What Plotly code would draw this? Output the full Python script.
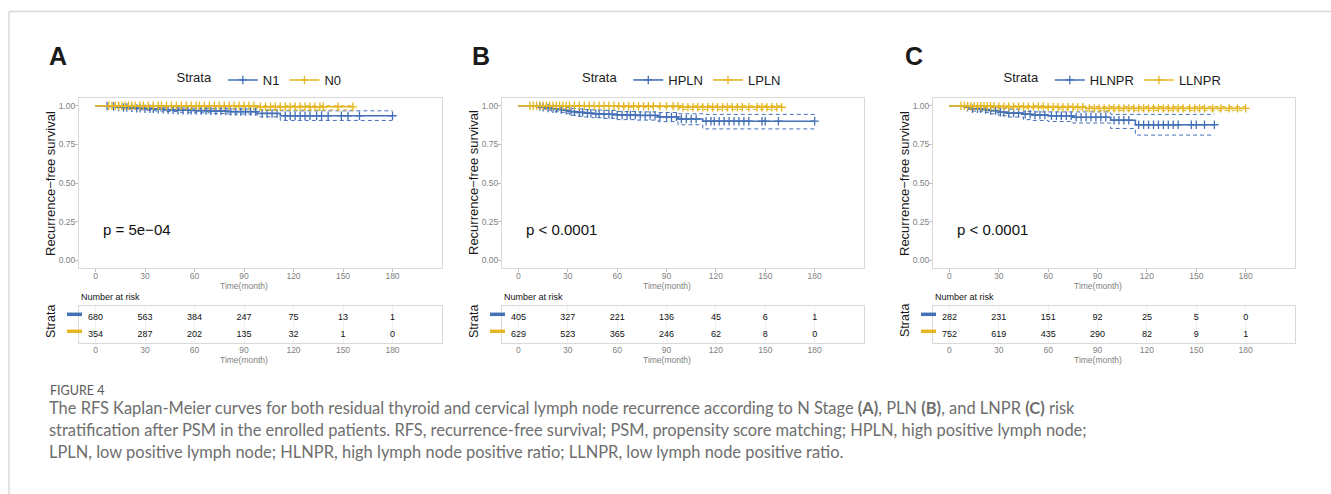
import numpy as np
import plotly.graph_objects as go

W, H = 1331, 494
BLUE = "#4470B6"
GOLD = "#E3B622"
GRAY_TXT = "#7F7F7F"
FONT = "Liberation Sans, Arial, sans-serif"

# ---------------- data ----------------
panel_letters = ["A", "B", "C"]
strata_labels = [["N1", "N0"], ["HPLN", "LPLN"], ["HLNPR", "LLNPR"]]
p_texts = ["p = 5e\u221204", "p < 0.0001", "p < 0.0001"]
risk_times = [0, 30, 60, 90, 120, 150, 180]

# Panel A  (N1 = blue, N0 = gold)
A_N1_t = [0, 7, 10, 13, 16, 20, 25, 30, 36, 42, 50, 60, 70, 80, 98, 112, 180]
A_N1_s = [1.0, 0.998, 0.995, 0.992, 0.989, 0.986, 0.983, 0.980, 0.977, 0.974, 0.971, 0.968, 0.965, 0.962, 0.950, 0.935, 0.935]
A_N1_up = [1.0, 1.0, 1.0, 0.999, 0.997, 0.995, 0.993, 0.991, 0.989, 0.987, 0.985, 0.983, 0.981, 0.979, 0.972, 0.967, 0.967]
A_N1_lo = [1.0, 0.994, 0.990, 0.986, 0.982, 0.978, 0.974, 0.970, 0.966, 0.962, 0.958, 0.954, 0.950, 0.946, 0.928, 0.905, 0.905]
A_N1_c = [7, 11, 14, 17, 19, 22, 25, 27, 30, 33, 35, 38, 41, 44, 47, 50, 53, 56, 58, 61, 64, 67, 70, 73, 76, 79, 82,
          85, 88, 91, 94, 97, 101, 104, 107, 110, 115, 118, 121, 124, 127, 130, 134, 137, 141, 149, 153, 160, 180]
A_N0_t = [0, 30, 98, 156]
A_N0_s = [1.0, 1.0, 0.993, 0.993]
A_N0_up = [1.0, 1.0, 1.0, 1.0]
A_N0_lo = [1.0, 0.992, 0.973, 0.973]
A_N0_c = [8, 10, 12, 14, 16, 18, 20, 22, 24, 27, 29, 32, 35, 38, 40, 43, 46, 49, 52, 55, 58, 61, 63, 66, 69, 72, 75,
          78, 81, 84, 87, 90, 93, 96, 100, 103, 106, 109, 112, 115, 118, 121, 124, 127, 130, 133, 136, 138, 147, 156]
A_risk_1 = [680, 563, 384, 247, 75, 13, 1]
A_risk_2 = [354, 287, 202, 135, 32, 1, 0]

# Panel B  (HPLN = blue, LPLN = gold)
B_H_t = [0, 12, 14, 17, 20, 24, 28, 31, 35, 40, 45, 52, 60, 72, 85, 97, 112, 180]
B_H_s = [1.0, 0.995, 0.990, 0.985, 0.980, 0.975, 0.970, 0.962, 0.957, 0.952, 0.948, 0.945, 0.940, 0.937, 0.928, 0.914, 0.900, 0.900]
B_H_up = [1.0, 1.0, 1.0, 0.998, 0.995, 0.992, 0.989, 0.983, 0.979, 0.975, 0.972, 0.970, 0.962, 0.960, 0.956, 0.948, 0.944, 0.944]
B_H_lo = [1.0, 0.985, 0.978, 0.971, 0.964, 0.957, 0.950, 0.938, 0.932, 0.927, 0.922, 0.918, 0.910, 0.907, 0.897, 0.877, 0.850, 0.850]
B_H_c = [13, 15, 18, 21, 23, 26, 29, 32, 34, 37, 39, 42, 44, 47, 49, 52, 55, 57, 60, 63, 66, 68, 71, 74, 77, 80,
         83, 86, 90, 93, 96, 99, 102, 105, 108, 114, 117, 119, 122, 125, 128, 131, 134, 137, 140, 148, 150, 158, 180]
B_L_t = [0, 60, 98, 160]
B_L_s = [1.0, 0.997, 0.990, 0.990]
B_L_up = [1.0, 1.0, 1.0, 1.0]
B_L_lo = [1.0, 0.990, 0.976, 0.976]
B_L_c = [7, 9, 11, 13, 15, 17, 19, 21, 23, 25, 27, 29, 31, 34, 37, 40, 43, 46, 49, 52, 55, 58, 61, 64, 67, 70, 73,
         76, 79, 82, 86, 90, 94, 97, 100, 103, 106, 109, 112, 115, 118, 121, 124, 127, 130, 133, 136, 140, 145, 148,
         151, 154, 157, 160]
B_risk_1 = [405, 327, 221, 136, 45, 6, 1]
B_risk_2 = [629, 523, 365, 246, 62, 8, 0]

# Panel C  (HLNPR = blue, LLNPR = gold)
C_H_t = [0, 10, 13, 20, 25, 30, 35, 45, 50, 60, 75, 98, 113, 161]
C_H_s = [1.0, 0.990, 0.980, 0.975, 0.968, 0.958, 0.952, 0.945, 0.940, 0.935, 0.925, 0.906, 0.877, 0.877]
C_H_up = [1.0, 1.0, 0.995, 0.992, 0.988, 0.982, 0.978, 0.962, 0.960, 0.960, 0.960, 0.944, 0.944, 0.944]
C_H_lo = [1.0, 0.978, 0.965, 0.957, 0.947, 0.935, 0.927, 0.910, 0.905, 0.898, 0.888, 0.853, 0.810, 0.810]
C_H_c = [11, 14, 17, 19, 22, 25, 28, 31, 33, 36, 39, 42, 46, 49, 52, 55, 58, 62, 65, 68, 71, 74, 77, 80, 83, 86, 89,
         92, 95, 100, 103, 106, 109, 115, 118, 121, 124, 127, 130, 133, 136, 139, 147, 150, 155, 161]
C_L_t = [0, 10, 30, 60, 83, 180]
C_L_s = [1.0, 0.997, 0.994, 0.990, 0.983, 0.983]
C_L_up = [1.0, 1.0, 1.0, 0.998, 0.995, 0.995]
C_L_lo = [1.0, 0.990, 0.985, 0.978, 0.968, 0.968]
C_L_c = [7, 9, 11, 13, 15, 17, 19, 21, 23, 25, 27, 30, 33, 36, 39, 42, 45, 48, 51, 54, 57, 60, 63, 66, 69, 72, 75,
         78, 81, 85, 88, 91, 94, 97, 100, 103, 106, 109, 112, 115, 118, 121, 124, 127, 130, 133, 136, 139, 142, 146,
         149, 152, 155, 160, 165, 170, 175, 180]
C_risk_1 = [282, 231, 151, 92, 25, 5, 0]
C_risk_2 = [752, 619, 435, 290, 82, 9, 1]

panels = [
    dict(blue=(A_N1_t, A_N1_s, A_N1_up, A_N1_lo, A_N1_c), gold=(A_N0_t, A_N0_s, A_N0_up, A_N0_lo, A_N0_c),
         risk=(A_risk_1, A_risk_2)),
    dict(blue=(B_H_t, B_H_s, B_H_up, B_H_lo, B_H_c), gold=(B_L_t, B_L_s, B_L_up, B_L_lo, B_L_c),
         risk=(B_risk_1, B_risk_2)),
    dict(blue=(C_H_t, C_H_s, C_H_up, C_H_lo, C_H_c), gold=(C_L_t, C_L_s, C_L_up, C_L_lo, C_L_c),
         risk=(C_risk_1, C_risk_2)),
]

# ---------------- layout geometry (pixels) ----------------
plot_x = [(79, 442), (502, 864), (933, 1295)]
surv_y = (98, 268)
risk_y = (306, 343)


def px_x(x):
    return x / W


def px_y(y):
    return 1 - y / H


fig = go.Figure()
layout = dict(width=W, height=H, margin=dict(l=0, r=0, t=0, b=0), paper_bgcolor="white",
              plot_bgcolor="white", showlegend=True, font=dict(family=FONT))
shapes = []
annotations = []


def step_value(t, s, c):
    idx = np.searchsorted(np.array(t), np.array(c), side="right") - 1
    return np.array(s)[idx]


for i, pan in enumerate(panels):
    ax_s = 2 * i + 1
    ax_r = 2 * i + 2
    xs = "x" if ax_s == 1 else f"x{ax_s}"
    ys = "y" if ax_s == 1 else f"y{ax_s}"
    xr, yr = f"x{ax_r}", f"y{ax_r}"
    leg = "legend" if i == 0 else f"legend{i + 1}"
    x0, x1 = plot_x[i]

    for key, col, lab in (("blue", BLUE, strata_labels[i][0]), ("gold", GOLD, strata_labels[i][1])):
        t, s, up, lo, c = pan[key]
        for band in (up, lo):
            fig.add_trace(go.Scatter(x=t, y=band, mode="lines", line=dict(color=col, width=1, dash="4px,3px", shape="hv"),
                                     xaxis=xs, yaxis=ys, showlegend=False, hoverinfo="skip"))
        fig.add_trace(go.Scatter(x=t, y=s, mode="lines", line=dict(color=col, width=1.6, shape="hv"),
                                 xaxis=xs, yaxis=ys, showlegend=False))
        fig.add_trace(go.Scatter(x=c, y=step_value(t, s, c), mode="markers",
                                 marker=dict(symbol="cross-thin", size=6, line=dict(color=col, width=1.3)),
                                 xaxis=xs, yaxis=ys, showlegend=False))
        fig.add_trace(go.Scatter(x=[None], y=[None], mode="lines+markers", name=lab,
                                 line=dict(color=col, width=1.6),
                                 marker=dict(symbol="cross-thin", size=6, line=dict(color=col, width=1.3)),
                                 xaxis=xs, yaxis=ys, legend=leg, showlegend=True))

    # risk table
    r1, r2 = pan["risk"]
    fig.add_trace(go.Scatter(x=risk_times, y=[2] * len(risk_times), mode="text", text=[str(v) for v in r1],
                             textfont=dict(size=9, color="#111111", family=FONT), xaxis=xr, yaxis=yr,
                             showlegend=False, hoverinfo="skip"))
    fig.add_trace(go.Scatter(x=risk_times, y=[1] * len(risk_times), mode="text", text=[str(v) for v in r2],
                             textfont=dict(size=9, color="#111111", family=FONT), xaxis=xr, yaxis=yr,
                             showlegend=False, hoverinfo="skip"))

    axcommon = dict(showline=True, mirror=True, linecolor="#D9D9D9", linewidth=1, zeroline=False,
                    ticks="outside", ticklen=3, tickcolor="#BDBDBD", tickfont=dict(size=8.5, color=GRAY_TXT, family=FONT))
    layout["xaxis" if ax_s == 1 else f"xaxis{ax_s}"] = dict(
        domain=[px_x(x0), px_x(x1)], anchor=ys, range=[-10, 210], tickvals=risk_times, showgrid=False,
        ticklabelstandoff=-3, **axcommon)
    layout["yaxis" if ax_s == 1 else f"yaxis{ax_s}"] = dict(
        domain=[px_y(surv_y[1]), px_y(surv_y[0])], anchor=xs, range=[-0.05, 1.05],
        tickvals=[0, 0.25, 0.5, 0.75, 1.0], tickformat=".2f", showgrid=False, ticklabelstandoff=-2, **axcommon)
    layout[f"xaxis{ax_r}"] = dict(
        domain=[px_x(x0), px_x(x1)], anchor=yr, range=[-10, 210], tickvals=risk_times, showgrid=True,
        gridcolor="#F0F0F0", ticklabelstandoff=-1,
        **{k: v for k, v in axcommon.items() if k not in ("ticks", "ticklen", "tickcolor")}, ticks="")
    layout[f"yaxis{ax_r}"] = dict(
        domain=[px_y(risk_y[1]), px_y(risk_y[0])], anchor=xr, range=[0.53, 2.71], showgrid=False,
        showticklabels=False, showline=True, mirror=True, linecolor="#D9D9D9", zeroline=False)

    # axis titles placed as annotations
    annotations.append(dict(text="Recurrence\u2212free survival", xref="paper", yref="paper", x=px_x(x0 - 29),
                            y=px_y((surv_y[0] + surv_y[1]) / 2), xanchor="center", yanchor="middle", textangle=-90,
                            showarrow=False, font=dict(size=13, color="#1a1a1a", family=FONT)))
    annotations.append(dict(text="Strata", xref="paper", yref="paper", x=px_x(x0 - 28), y=px_y(321),
                            xanchor="center", yanchor="middle", textangle=-90,
                            showarrow=False, font=dict(size=12.5, color="#1a1a1a", family=FONT)))
    for ty in (285.5, 360):
        annotations.append(dict(text="Time(month)", xref=xs, yref="paper", x=90, y=px_y(ty),
                                xanchor="center", yanchor="middle", showarrow=False,
                                font=dict(size=8.5, color=GRAY_TXT, family=FONT)))

    # legend
    layout[leg] = dict(orientation="h", x=px_x((x0 + x1) / 2), xanchor="center", y=px_y(80), yanchor="middle",
                       title=dict(text="Strata ", font=dict(size=13, color="#1a1a1a"), side="left"),
                       font=dict(size=13, color="#1a1a1a", family=FONT), bgcolor="rgba(0,0,0,0)",
                       itemwidth=30, tracegroupgap=0, entrywidth=0)

    # colored strata bars in risk table
    for yv, col in ((2, BLUE), (1, GOLD)):
        shapes.append(dict(type="line", xref="paper", yref=yr, x0=px_x(x0 - 12), x1=px_x(x0 + 3), y0=yv + 0.22,
                           y1=yv + 0.22, line=dict(color=col, width=3.5)))

    annotations.append(dict(text="Number at risk", xref="paper", yref="paper", x=px_x(x0), y=px_y(297),
                            xanchor="left", yanchor="middle", showarrow=False,
                            font=dict(size=9, color="#111111", family=FONT)))
    annotations.append(dict(text=panel_letters[i], xref="paper", yref="paper",
                            x=px_x([47, 470, 903][i]), y=px_y(56), xanchor="left", yanchor="middle",
                            showarrow=False, font=dict(size=25, color="#1a1a1a", family=FONT, weight="bold")))
    annotations.append(dict(text=p_texts[i], xref=xs, yref=ys, x=3.6, y=0.2, xanchor="left", yanchor="middle",
                            showarrow=False, font=dict(size=15, color="#111111", family=FONT)))

# caption
CAP_FONT = "Lato, Open Sans, sans-serif"
annotations.append(dict(text="FIGURE 4", xref="paper", yref="paper", x=px_x(48), y=px_y(390), xanchor="left",
                        yanchor="middle", showarrow=False, font=dict(size=12.5, color="#5a5a5a", family=CAP_FONT)))
caption_lines = [
    "The RFS Kaplan-Meier curves for both residual thyroid and cervical lymph node recurrence according to N Stage <b>(A)</b>, PLN <b>(B)</b>, and LNPR <b>(C)</b> risk",
    "stratification after PSM in the enrolled patients. RFS, recurrence-free survival; PSM, propensity score matching; HPLN, high positive lymph node;",
    "LPLN, low positive lymph node; HLNPR, high lymph node positive ratio; LLNPR, low lymph node positive ratio.",
]
for k, line in enumerate(caption_lines):
    annotations.append(dict(text=line, xref="paper", yref="paper", x=px_x(47), y=px_y(408 + 22 * k), xanchor="left",
                            yanchor="middle", showarrow=False, font=dict(size=16.45, color="#6e6e6e", family=CAP_FONT)))

# frame lines
shapes.append(dict(type="line", xref="paper", yref="paper", x0=px_x(9), x1=1, y0=px_y(11.5), y1=px_y(11.5),
                   line=dict(color="#D8D8D8", width=1.5)))
shapes.append(dict(type="line", xref="paper", yref="paper", x0=px_x(9), x1=px_x(9), y0=px_y(11.5), y1=0,
                   line=dict(color="#D8D8D8", width=1.5)))

layout["shapes"] = shapes
layout["annotations"] = annotations
fig.update_layout(**layout)
fig.write_html("out.html")
